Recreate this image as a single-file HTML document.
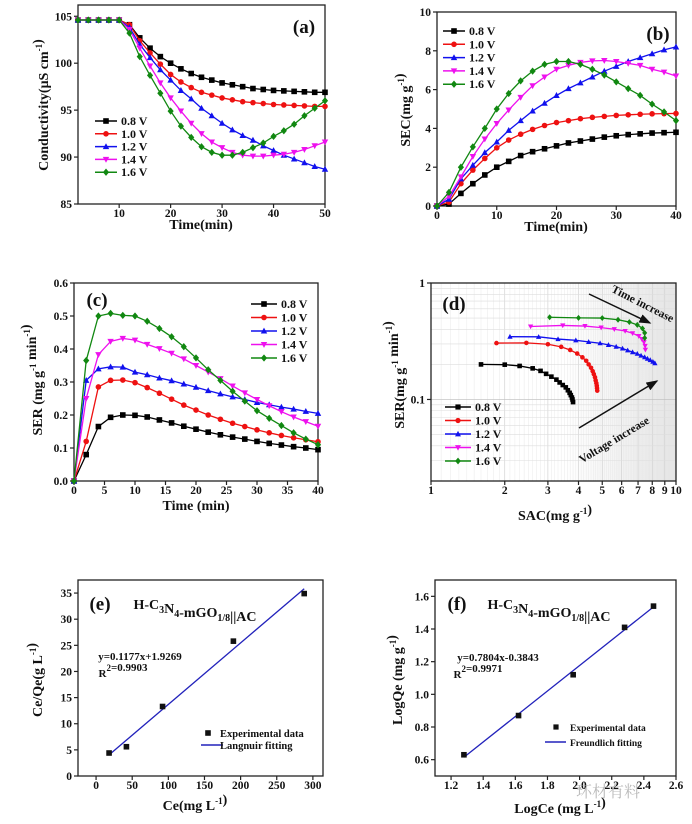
<!DOCTYPE html>
<html><head><meta charset="utf-8"><style>
html,body{margin:0;padding:0;background:#fff;width:692px;height:824px;overflow:hidden}
svg{display:block}
text{font-family:"Liberation Serif","Noto Serif CJK SC",serif;font-weight:bold;fill:#111}
</style></head><body>
<svg id="fig" width="692" height="824" viewBox="0 0 692 824" xmlns="http://www.w3.org/2000/svg"></svg>
<script>
// ---------- data ----------
const voltages = ["0.8 V","1.0 V","1.2 V","1.4 V","1.6 V"];
const colors = ["#000000","#ee1111","#1111ee","#ee11ee","#118811"];
const shapes = ["sq","ci","tu","td","di"];
const timeA = [2,4,6,8,10,12,14,16,18,20,22,24,26,28,30,32,34,36,38,40,42,44,46,48,50];
const condA08 = [104.6,104.6,104.6,104.6,104.6,104.1,102.7,101.6,100.7,100,99.4,98.9,98.5,98.2,97.9,97.7,97.5,97.3,97.2,97.1,97.05,97,96.95,96.9,96.9];
const condA10 = [104.6,104.6,104.6,104.6,104.6,104.1,102.4,101.1,99.9,98.8,98,97.4,96.9,96.6,96.3,96.1,95.9,95.8,95.7,95.6,95.55,95.5,95.45,95.4,95.4];
const condA12 = [104.6,104.6,104.6,104.6,104.6,103.8,102,100.6,99.3,98.2,97.1,96.2,95.2,94.4,93.6,92.9,92.3,91.8,91.2,90.7,90.2,89.8,89.4,89,88.7];
const condA14 = [104.6,104.6,104.6,104.6,104.6,103.6,101.6,99.7,97.9,96.3,94.9,93.6,92.5,91.6,91,90.5,90.2,90.1,90.1,90.2,90.3,90.5,90.8,91.2,91.6];
const condA16 = [104.6,104.6,104.6,104.6,104.6,103.2,100.7,98.7,96.8,94.9,93.3,92.1,91.1,90.5,90.2,90.2,90.5,91,91.5,92.2,92.8,93.5,94.4,95.2,96];
const timeB = [0,2,4,6,8,10,12,14,16,18,20,22,24,26,28,30,32,34,36,38,40];
const secB08 = [0,0.1,0.65,1.15,1.6,2.0,2.3,2.6,2.8,2.95,3.1,3.25,3.35,3.45,3.55,3.62,3.68,3.72,3.76,3.78,3.8];
const secB10 = [0,0.2,1.15,1.85,2.45,3.0,3.4,3.7,3.95,4.15,4.3,4.4,4.5,4.57,4.62,4.67,4.7,4.73,4.75,4.76,4.77];
const secB12 = [0,0.35,1.4,2.1,2.75,3.3,3.9,4.4,4.9,5.3,5.7,6.05,6.35,6.65,6.95,7.2,7.45,7.65,7.85,8.05,8.2];
const secB14 = [0,0.5,1.5,2.55,3.45,4.25,4.95,5.6,6.2,6.65,7.05,7.25,7.4,7.48,7.5,7.45,7.35,7.25,7.05,6.9,6.7];
const secB16 = [0,0.7,2.0,3.05,4.0,5.0,5.8,6.45,6.95,7.3,7.45,7.45,7.3,7.05,6.75,6.4,6.05,5.7,5.25,4.85,4.4];
const serC08 = [0,0.08,0.165,0.193,0.2,0.199,0.194,0.185,0.176,0.166,0.157,0.148,0.14,0.133,0.127,0.12,0.114,0.109,0.104,0.1,0.095];
const serC10 = [0,0.12,0.285,0.305,0.306,0.298,0.283,0.266,0.248,0.23,0.215,0.2,0.187,0.175,0.165,0.155,0.146,0.138,0.131,0.125,0.119];
const serC12 = [0,0.305,0.34,0.346,0.345,0.33,0.322,0.312,0.304,0.294,0.284,0.274,0.264,0.255,0.247,0.238,0.231,0.224,0.218,0.211,0.205];
const serC14 = [0,0.25,0.383,0.423,0.432,0.427,0.414,0.401,0.387,0.37,0.35,0.33,0.31,0.288,0.267,0.247,0.228,0.21,0.194,0.18,0.166];
const serC16 = [0,0.365,0.5,0.508,0.502,0.5,0.484,0.462,0.437,0.407,0.373,0.337,0.305,0.272,0.242,0.213,0.19,0.168,0.146,0.127,0.11];
const dStart = [4,3,3,3,3];
const ceE = [18,42,92,190,288];
const ceqeE = [4.4,5.6,13.3,25.8,34.9];
const slopeE = 0.1177, interE = 1.9269;
const logCeF = [1.28,1.62,1.96,2.28,2.46];
const logQeF = [0.63,0.87,1.12,1.41,1.54];
const slopeF = 0.7804, interF = -0.3843;
const ticksAx = [10,20,30,40,50], ticksAy = [85,90,95,100,105];
const ticksBx = [0,10,20,30,40], ticksBy = [0,2,4,6,8,10];
const ticksCx = [0,5,10,15,20,25,30,35,40], ticksCy = [0,0.1,0.2,0.3,0.4,0.5,0.6];
const ticksDx = [1,2,3,4,5,6,7,8,9,10], ticksDy = [0.1,1];
const ticksEx = [0,50,100,150,200,250,300], ticksEy = [0,5,10,15,20,25,30,35];
const ticksFx = [1.2,1.4,1.6,1.8,2.0,2.2,2.4,2.6], ticksFy = [0.6,0.8,1.0,1.2,1.4,1.6];

// ---------- helpers ----------
const NS="http://www.w3.org/2000/svg";
const fig=document.getElementById('fig');
function mk(parent,tag,attrs,txt){const e=document.createElementNS(NS,tag);for(const k in attrs)e.setAttribute(k,attrs[k]);if(txt!==undefined)e.textContent=txt;parent.appendChild(e);return e;}
function fmt(v,d){return d===undefined?String(v):v.toFixed(d);}

function panel(name,c){
  const g=mk(fig,'g',{});
  
  
  const lx=v=>c.xlog?Math.log10(v):v, ly=v=>c.ylog?Math.log10(v):v;
  const sx=v=>c.x0+(lx(v)-c.xmin)/(c.xmax-c.xmin)*(c.x1-c.x0);
  const sy=v=>c.y1-(ly(v)-c.ymin)/(c.ymax-c.ymin)*(c.y1-c.y0);
  if(c.grid){
    const gg=mk(g,'g',{});
    
    
    mk(gg,'rect',{x:c.x0,y:c.y0,width:c.x1-c.x0,height:c.y1-c.y0,fill:'url(#shade)'});
    for(let d=1;d<10;d++){mk(gg,'line',{x1:sx(d),x2:sx(d),y1:c.y0,y2:c.y1,stroke:'#ccc','stroke-width':0.6});
      for(let k=1;k<10;k++){const v=(d+k/10);if(v<10)mk(gg,'line',{x1:sx(v),x2:sx(v),y1:c.y0,y2:c.y1,stroke:'#e4e4e4','stroke-width':0.4});}}
    for(const dec of [0.01,0.1]){for(let k=1;k<10;k++){const v=dec*k;if(ly(v)>=c.ymin)mk(gg,'line',{x1:c.x0,x2:c.x1,y1:sy(v),y2:sy(v),stroke:k==1?'#bbb':'#ddd','stroke-width':0.6});}}
  }
  const ax=mk(g,'g',{});
  
  
  mk(ax,'rect',{x:c.x0,y:c.y0,width:c.x1-c.x0,height:c.y1-c.y0,fill:'none',stroke:'#222','stroke-width':1.3});
  c.xt.forEach(v=>{const x=sx(v);mk(ax,'line',{x1:x,x2:x,y1:c.y1,y2:c.y1+4,stroke:'#222','stroke-width':1.2});
    const t=mk(ax,'text',{x:x,y:c.y1+13,'text-anchor':'middle','font-size':11.5},fmt(v,c.xd));
    
    });
  c.yt.forEach(v=>{const y=sy(v);mk(ax,'line',{x1:c.x0-4,x2:c.x0,y1:y,y2:y,stroke:'#222','stroke-width':1.2});
    const t=mk(ax,'text',{x:c.x0-6,y:y+4,'text-anchor':'end','font-size':11.5},fmt(v,c.yd));
    
    });
  return {g,sx,sy};
}
function marker(g,shape,x,y,r,col){
  if(shape=='sq')return mk(g,'rect',{x:x-r,y:y-r,width:2*r,height:2*r,fill:col});
  if(shape=='ci')return mk(g,'circle',{cx:x,cy:y,r:r,fill:col});
  if(shape=='tu')return mk(g,'polygon',{points:`${x},${y-r*1.2} ${x-r*1.15},${y+r*0.9} ${x+r*1.15},${y+r*0.9}`,fill:col});
  if(shape=='td')return mk(g,'polygon',{points:`${x},${y+r*1.2} ${x-r*1.15},${y-r*0.9} ${x+r*1.15},${y-r*0.9}`,fill:col});
  return mk(g,'polygon',{points:`${x},${y-r*1.3} ${x+r*1.1},${y} ${x},${y+r*1.3} ${x-r*1.1},${y}`,fill:col});
}
function series(p,name,xs,ys,i,r){
  const s=mk(p.g,'g',{});
  
  
  mk(s,'polyline',{points:xs.map((x,k)=>p.sx(x)+','+p.sy(ys[k])).join(' '),fill:'none',stroke:colors[i],'stroke-width':1.3});
  xs.forEach((x,k)=>{const m=marker(s,shapes[i],p.sx(x),p.sy(ys[k]),r,colors[i]);
    
    });
}
function legend(p,lx,ly0,dy,len,r){
  const lg=mk(p.g,'g',{});
  
  
  voltages.forEach((v,i)=>{const y=ly0+i*dy;
    const e=mk(lg,'g',{});
    
    
    mk(e,'line',{x1:lx,x2:lx+len,y1:y,y2:y,stroke:colors[i],'stroke-width':1.5});
    marker(e,shapes[i],lx+len/2,y,r,colors[i]);
    mk(e,'text',{x:lx+len+4,y:y+4,'font-size':12},v);});
}
function label(p,x,y,txt,size,name,rot){
  const t=mk(p.g,'text',{x:x,y:y,'text-anchor':'middle','font-size':size});
  t.innerHTML=txt;
  if(rot)t.setAttribute('transform',`rotate(${rot} ${x} ${y})`);
  
  
  return t;
}
const defs=mk(fig,'defs',{});
const lgd=mk(defs,'linearGradient',{id:'shade',x1:0,x2:1,y1:0,y2:0});
mk(lgd,'stop',{offset:'0.55','stop-color':'#fff'});
mk(lgd,'stop',{offset:'1','stop-color':'#e6e6e6'});
const sup=s=>`<tspan dy="-6" font-size="9">${s}</tspan><tspan dy="6"></tspan>`;
const sub=s=>`<tspan dy="4" font-size="10">${s}</tspan><tspan dy="-4"></tspan>`;

// ---------- (a) ----------
const pa=panel('panel-a-conductivity',{x0:78,x1:325,y0:5,y1:204,xmin:2,xmax:50,ymin:85,ymax:106.2,xt:ticksAx,yt:ticksAy});
[condA08,condA10,condA12,condA14,condA16].forEach((d,i)=>series(pa,'series-'+voltages[i].replace(/[ .]/g,''),timeA,d,i,2.8));
legend(pa,95,121,12.8,22,2.8);
label(pa,304,33,'(a)',19,'panel-label-a');
label(pa,48,105,'Conductivity(μS cm'+sup('-1')+')',14,'y-axis-title',-90);
label(pa,201,229,'Time(min)',14,'x-axis-title');

// ---------- (b) ----------
const pb=panel('panel-b-sec',{x0:437,x1:676,y0:12,y1:206,xmin:0,xmax:40,ymin:0,ymax:10,xt:ticksBx,yt:ticksBy});
[secB08,secB10,secB12,secB14,secB16].forEach((d,i)=>series(pb,'series-'+voltages[i].replace(/[ .]/g,''),timeB,d,i,2.8));
legend(pb,443,31,13.3,22,2.8);
label(pb,658,40,'(b)',19,'panel-label-b');
label(pb,410,110,'SEC(mg g'+sup('-1')+')',14,'y-axis-title',-90);
label(pb,556,231,'Time(min)',14,'x-axis-title');

// ---------- (c) ----------
const pc=panel('panel-c-ser',{x0:74,x1:318,y0:283,y1:481,xmin:0,xmax:40,ymin:0,ymax:0.6,xt:ticksCx,yt:ticksCy,yd:1});
const serAll=[serC08,serC10,serC12,serC14,serC16];
serAll.forEach((d,i)=>series(pc,'series-'+voltages[i].replace(/[ .]/g,''),timeB,d,i,2.8));
legend(pc,251,304,13.5,26,2.8);
label(pc,97,306,'(c)',19,'panel-label-c');
label(pc,42,380,'SER (mg g'+sup('-1')+' min'+sup('-1')+')',14,'y-axis-title',-90);
label(pc,196,510,'Time (min)',14,'x-axis-title');

// ---------- (d) ----------
const pd=panel('panel-d-ragone',{x0:431,x1:676,y0:283,y1:481,xmin:0,xmax:1,ymin:-1.7,ymax:0,xlog:true,ylog:true,xt:ticksDx,yt:ticksDy,grid:true});
const secAll=[secB08,secB10,secB12,secB14,secB16];
secAll.forEach((sec,i)=>{const xs=[],ys=[];for(let k=dStart[i];k<sec.length;k++){if(xs.length&&sec[k]<xs[xs.length-1])break;xs.push(sec[k]);ys.push(serAll[i][k]);}
  series(pd,'series-'+voltages[i].replace(/[ .]/g,''),xs,ys,i,2.3);});
legend(pd,445,407,13.5,26,2.6);
label(pd,454,310,'(d)',19,'panel-label-d');
label(pd,404,375,'SER(mg g'+sup('-1')+' min'+sup('-1')+')',14,'y-axis-title',-90);
label(pd,555,520,'SAC(mg g'+sup('-1')+')',14,'x-axis-title');
const arr=mk(defs,'marker',{id:'ah',markerWidth:8,markerHeight:8,refX:7,refY:4,orient:'auto'});
mk(arr,'path',{d:'M0,1 L8,4 L0,7 z',fill:'#111'});
const a1=mk(pd.g,'line',{x1:589,y1:294,x2:650,y2:323,stroke:'#111','stroke-width':1.5,'marker-end':'url(#ah)'});


const a2=mk(pd.g,'line',{x1:579,y1:428,x2:657,y2:381,stroke:'#111','stroke-width':1.5,'marker-end':'url(#ah)'});


label(pd,641,307,'Time increase',11.5,'time-increase-annotation',27);
label(pd,616,443,'Voltage increase',11.5,'voltage-increase-annotation',-31);

// ---------- (e) ----------
const pe=panel('panel-e-langmuir',{x0:78,x1:323,y0:580,y1:776,xmin:-25,xmax:314,ymin:0,ymax:37.5,xt:ticksEx,yt:ticksEy});
const fe=mk(pe.g,'line',{x1:pe.sx(ceE[0]),y1:pe.sy(slopeE*ceE[0]+interE),x2:pe.sx(ceE[4]),y2:pe.sy(slopeE*ceE[4]+interE),stroke:'#2222bb','stroke-width':1.3});


ceE.forEach((x,k)=>{const m=marker(pe.g,'sq',pe.sx(x),pe.sy(ceqeE[k]),2.8,'#111');
  
  });
label(pe,100,610,'(e)',19,'panel-label-e');
label(pe,195,609,'H-C'+sub('3')+'N'+sub('4')+'-mGO'+sub('1/8')+'||AC',14,'compound-title');
label(pe,140,660,'y=0.1177x+1.9269',11,'fit-equation');
label(pe,123,677,'R'+sup('2')+'=0.9903',11,'r-squared');
const le1=marker(pe.g,'sq',208,733,2.8,'#111');


mk(pe.g,'text',{x:220,y:737,'font-size':10.5},'Experimental data');
mk(pe.g,'line',{x1:201,x2:223,y1:745,y2:745,stroke:'#2222bb','stroke-width':1.5});
mk(pe.g,'text',{x:220,y:749,'font-size':10.5},'Langnuir fitting');
label(pe,42,680,'Ce/Qe(g L'+sup('-1')+')',14,'y-axis-title',-90);
label(pe,195,810,'Ce(mg L'+sup('-1')+')',14,'x-axis-title');

// ---------- (f) ----------
const pf=panel('panel-f-freundlich',{x0:435,x1:676,y0:580,y1:776,xmin:1.1,xmax:2.6,ymin:0.5,ymax:1.7,xt:ticksFx,yt:ticksFy,xd:1,yd:1});
const ff=mk(pf.g,'line',{x1:pf.sx(logCeF[0]),y1:pf.sy(slopeF*logCeF[0]+interF),x2:pf.sx(logCeF[4]),y2:pf.sy(slopeF*logCeF[4]+interF),stroke:'#2222bb','stroke-width':1.3});


logCeF.forEach((x,k)=>{const m=marker(pf.g,'sq',pf.sx(x),pf.sy(logQeF[k]),2.8,'#111');
  
  });
label(pf,457,610,'(f)',19,'panel-label-f');
label(pf,549,609,'H-C'+sub('3')+'N'+sub('4')+'-mGO'+sub('1/8')+'||AC',14,'compound-title');
label(pf,498,661,'y=0.7804x-0.3843',11,'fit-equation');
label(pf,478,678,'R'+sup('2')+'=0.9971',11,'r-squared');
const lf1=marker(pf.g,'sq',556,727,2.6,'#111');


mk(pf.g,'text',{x:570,y:731,'font-size':9.5},'Experimental data');
mk(pf.g,'line',{x1:545,x2:566,y1:742,y2:742,stroke:'#2222bb','stroke-width':1.5});
mk(pf.g,'text',{x:570,y:746,'font-size':9.5},'Freundlich  fitting');
label(pf,402,680,'LogQe (mg g'+sup('-1')+')',14,'y-axis-title',-90);
label(pf,560,813,'LogCe (mg L'+sup('-1')+')',14,'x-axis-title');
const wm=mk(fig,'text',{x:608,y:797,'font-size':16,'text-anchor':'middle',style:'fill:#bbb;font-weight:normal'},'环材有料');


</script>
</body></html>
